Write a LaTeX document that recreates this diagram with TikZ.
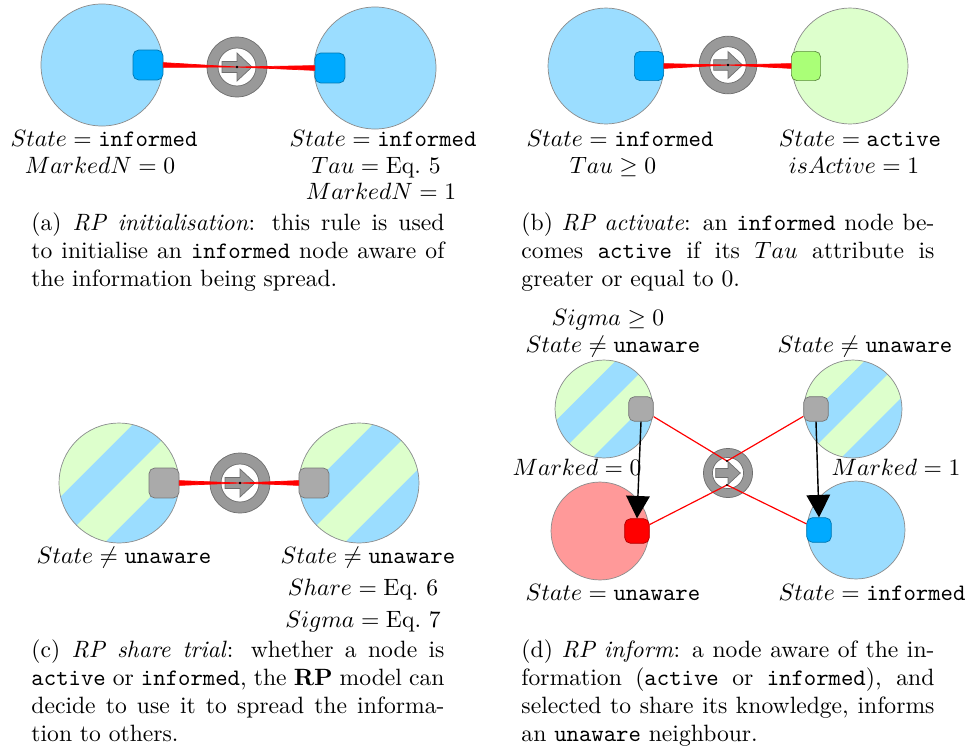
\documentclass[tikz,border=0pt]{standalone}
\usepackage{tikz}
\usetikzlibrary{arrows.meta}

\definecolor{infoblue}{RGB}{155,221,255}
\definecolor{infosq}{RGB}{0,170,255}
\definecolor{actgreen}{RGB}{221,255,204}
\definecolor{actsq}{RGB}{170,255,119}
\definecolor{unawred}{RGB}{255,153,153}
\definecolor{unawsq}{RGB}{255,0,0}
\definecolor{anysq}{RGB}{170,170,170}
\definecolor{ringgray}{RGB}{153,153,153}
\definecolor{ringedge}{RGB}{110,110,110}
\definecolor{linkred}{RGB}{255,0,0}

\tikzset{
	agent/.style={circle, inner sep=0pt, minimum size=#1, draw=black!45, line width=0.3pt},
	port/.style={rectangle, rounded corners=2.4pt, inner sep=0pt, minimum size=#1, line width=0.3pt},
	% diagonal bands: green where x+y < -#1 and 0 < x+y < #1 (centre at 0)
	striped/.style={fill=infoblue, path picture={
			\begin{scope}[shift={(path picture bounding box.center)}]
				\fill[actgreen] (0,-200) -- (-200,0) -- ({-#1/2-100},{-#1/2+100}) -- ({-#1/2+100},{-#1/2-100}) -- cycle;
				\fill[actgreen] (100,-100) -- (-100,100) -- ({#1/2-100},{#1/2+100}) -- ({#1/2+100},{#1/2-100}) -- cycle;
			\end{scope}}},
	taper/.style={fill=linkred, draw=linkred, line width=0.3pt, line join=round},
	link/.style={draw=linkred, line width=0.5pt},
	flow/.style={-{Triangle[width=10pt,length=9.5pt]}, line width=0.6pt},
	lbl/.style={anchor=base, inner sep=0pt},
	capt/.style={anchor=base west, inner sep=0pt, text width=175pt, align=justify},
	rulering/.pic={
		\filldraw[fill=ringgray, draw=ringedge, line width=0.3pt, even odd rule] (0,0) circle[radius=30] (0,0) circle[radius=19];
		\filldraw[fill=ringgray, draw=ringedge, line width=0.3pt] (-15,-5.5) -- (0,-5.5) -- (0,-14) -- (15,0) -- (0,14) -- (0,5.5) -- (-15,5.5) -- cycle;
		\coordinate (-c) at (0,0);
	}
}

\begin{document}
\begin{tikzpicture}[x=0.4237pt, y=-0.4237pt]
		%%%%% START %%%%%
		\useasboundingbox (0,0) rectangle (970,753);
		
		%% (a) initialisation
		\node[agent=51.7pt, fill=infoblue] (aA) at (102,65) {};
		\node[agent=51.7pt, fill=infoblue] (aB) at (375,68) {};
		\pic (aR) at (237,67) {rulering};
		\node[port=12.7pt, fill=infosq, draw=infosq!70!black] (aAp) at (148,65) {};
		\node[port=12.7pt, fill=infosq, draw=infosq!70!black] (aBp) at (330,68) {};
		\filldraw[taper] ([yshift=1pt]aAp.east) -- (aR-c) -- ([yshift=-1pt]aAp.east) -- cycle;
		\filldraw[taper] ([yshift=1pt]aBp.west) -- (aR-c) -- ([yshift=-1pt]aBp.west) -- cycle;
		\fill (aR-c) circle[radius=1.3];
		
		\node[lbl] (aA1) at (104,146) {$State = \texttt{informed}$};
		\node[lbl] (aA2) at (100,173) {$MarkedN = 0$};
		\node[lbl] (aB1) at (383,146) {$State = \texttt{informed}$};
		\node[lbl] (aB2) at (376,173) {$Tau = \mbox{Eq.~5}$};
		\node[lbl] (aB3) at (381,199) {$MarkedN = 1$};
		\node[capt] (aCap) at (31,230) {(a) \textit{RP initialisation}: this rule is used\linebreak to initialise an \texttt{informed} node aware of\linebreak the information being spread.};
		
		%% (b) activate
		\node[agent=49.1pt, fill=infoblue] (bA) at (606,66) {};
		\node[agent=49.1pt, fill=actgreen] (bB) at (850,66) {};
		\pic[scale=0.96] (bR) at (728,65) {rulering};
		\node[port=12.4pt, fill=infosq, draw=infosq!70!black] (bAp) at (649,66) {};
		\node[port=12.4pt, fill=actsq, draw=actsq!55!black] (bBp) at (806,66) {};
		\filldraw[taper] ([yshift=1pt]bAp.east) -- (bR-c) -- ([yshift=-1pt]bAp.east) -- cycle;
		\filldraw[taper] ([yshift=1pt]bBp.west) -- (bR-c) -- ([yshift=-1pt]bBp.west) -- cycle;
		\fill (bR-c) circle[radius=1.3];
		
		\node[lbl] (bA1) at (620,146) {$State = \texttt{informed}$};
		\node[lbl] (bA2) at (613,173) {$Tau \geq 0$};
		\node[lbl] (bB1) at (860,146) {$State = \texttt{active}$};
		\node[lbl] (bB2) at (854,173) {$isActive = 1$};
		\node[capt] (bCap) at (521,230) {(b) \textit{RP activate}: an \texttt{informed} node be-\linebreak comes \texttt{active} if its $Tau$ attribute is\linebreak greater or equal to 0.};
		
		%% (c) share trial
		\node[agent=50.8pt, striped=45] (cA) at (119,483) {};
		\node[agent=50.8pt, striped=45] (cB) at (359,483) {};
		\pic (cR) at (240,483) {rulering};
		\node[port=12.7pt, fill=anysq, draw=anysq!70!black] (cAp) at (164,483) {};
		\node[port=12.7pt, fill=anysq, draw=anysq!70!black] (cBp) at (314,483) {};
		\filldraw[taper] ([yshift=1pt]cAp.east) -- (cR-c) -- ([yshift=-1pt]cAp.east) -- cycle;
		\filldraw[taper] ([yshift=1pt]cBp.west) -- (cR-c) -- ([yshift=-1pt]cBp.west) -- cycle;
		\fill (cR-c) circle[radius=1.3];
		
		\node[lbl] (cA1) at (124,563) {$State \neq \texttt{unaware}$};
		\node[lbl] (cB1) at (368,563) {$State \neq \texttt{unaware}$};
		\node[lbl] (cB2) at (363,595) {$Share = \mbox{Eq.~6}$};
		\node[lbl] (cB3) at (363,627) {$Sigma = \mbox{Eq.~7}$};
		\node[capt] (cCap) at (31,657) {(c) \textit{RP share trial}: whether a node is\linebreak \texttt{active} or \texttt{informed}, the \textbf{RP} model can\linebreak decide to use it to spread the informa-\linebreak tion to others.};
		
		%% (d) inform
		\node[agent=41.5pt, striped=36.75] (dA) at (604,409) {};
		\node[agent=41.5pt, striped=36.75] (dB) at (853,409) {};
		\node[agent=41.5pt, fill=unawred] (dC) at (600,531) {};
		\node[agent=41.5pt, fill=infoblue] (dD) at (856,530) {};
		\pic[scale=0.82] (dR) at (728,473) {rulering};
		\coordinate (dUp) at (727,461);
		\coordinate (dLo) at (727,485);
		\node[port=10.4pt, fill=anysq, draw=anysq!70!black] (dAp) at (641,409) {};
		\node[port=10.4pt, fill=anysq, draw=anysq!70!black] (dBp) at (816,409) {};
		\node[port=10.4pt, fill=unawsq, draw=unawsq!70!black] (dCp) at (637,531) {};
		\node[port=10.4pt, fill=infosq, draw=infosq!70!black] (dDp) at (819,530) {};
		\draw[link] (dAp) -- (dUp) -- (dBp);
		\draw[link] (dCp) -- (dLo) -- (dDp);
		\fill (dUp) circle[radius=1.1];
		\fill (dLo) circle[radius=1.1];
		\draw[flow] (dAp.south) -- (dCp.north);
		\draw[flow] (dBp.south) -- (dDp.north);
		
		\node[lbl] (dA0) at (608,325) {$Sigma \geq 0$};
		\node[lbl] (dA1) at (613,352) {$State \neq \texttt{unaware}$};
		\node[lbl] (dB1) at (865,352) {$State \neq \texttt{unaware}$};
		\node[lbl] (dA2) at (577,475) {$Marked = 0$};
		\node[lbl] (dB2) at (896,475) {$Marked = 1$};
		\node[lbl] (dC1) at (613,600) {$State = \texttt{unaware}$};
		\node[lbl] (dD1) at (872,600) {$State = \texttt{informed}$};
		\node[capt] (dCap) at (521,657) {(d) \textit{RP inform}: a node aware of the in-\linebreak formation (\texttt{active} or \texttt{informed}), and\linebreak selected to share its knowledge, informs\linebreak an \texttt{unaware} neighbour.};
		
		%%%%% END %%%%%
\end{tikzpicture}
\end{document}
